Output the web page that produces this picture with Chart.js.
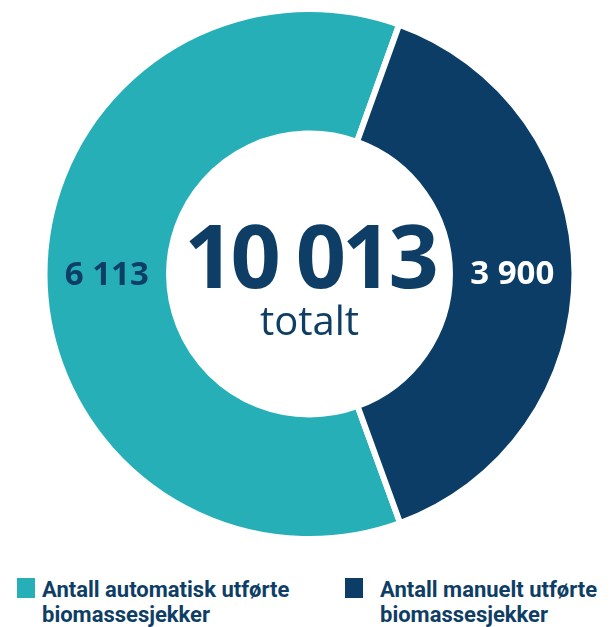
<!DOCTYPE html>
<html>
<head>
<meta charset="utf-8">
<script src="https://cdn.jsdelivr.net/npm/chart.js@4"></script>
<style>
  html, body { margin: 0; padding: 0; background: #fff; }
  #wrap { position: relative; width: 613px; height: 627px; overflow: hidden; }
  #cv { position: absolute; left: 0; top: 0; }
  .leg { position: absolute; font-family: Roboto, "Noto Sans", sans-serif; font-weight: 700;
         font-size: 22px; line-height: 25px; color: #0E3E66; white-space: nowrap; }
  .sw { position: absolute; width: 18px; height: 20px; }
</style>
</head>
<body>
<div id="wrap">
  <canvas id="cv" width="613" height="548"></canvas>
  <div id="legend"></div>
</div>
<script>
const categories = ["Antall automatisk utførte biomassesjekker", "Antall manuelt utførte biomassesjekker"];
const legendLines = [["Antall automatisk utførte", "biomassesjekker"], ["Antall manuelt utførte", "biomassesjekker"]];
const values = [6113, 3900];
const colors = ["#27AFB7", "#0C3D66"];
const labelColors = ["#0E3E66", "#FFFFFF"];
const totalWord = "totalt";

function fmt(n) { return String(n).replace(/\B(?=(\d{3})+(?!\d))/g, " "); }

const valueLabels = {
  id: "valueLabels",
  afterDatasetsDraw(chart) {
    const ctx = chart.ctx;
    const meta = chart.getDatasetMeta(0);
    ctx.save();
    ctx.font = "700 33px 'Open Sans', sans-serif";
    ctx.textAlign = "center";
    ctx.textBaseline = "middle";
    meta.data.forEach((arc, i) => {
      const p = arc.tooltipPosition();
      ctx.fillStyle = labelColors[i];
      ctx.fillText(fmt(values[i]), p.x, p.y + 1);
    });
    const cx = (chart.chartArea.left + chart.chartArea.right) / 2;
    const cy = (chart.chartArea.top + chart.chartArea.bottom) / 2;
    const total = values.reduce((a, b) => a + b, 0);
    ctx.fillStyle = "#0E3E66";
    ctx.textBaseline = "alphabetic";
    ctx.font = "700 88px 'Open Sans', sans-serif";
    if ('letterSpacing' in ctx) ctx.letterSpacing = "-4px";
    ctx.fillText(fmt(total), cx, cy + 14);
    if ('letterSpacing' in ctx) ctx.letterSpacing = "0px";
    ctx.font = "400 40px 'Open Sans', sans-serif";
    ctx.fillText(totalWord, cx, cy + 61);
    ctx.restore();
  }
};

new Chart(document.getElementById("cv"), {
  type: "doughnut",
  data: {
    labels: categories,
    datasets: [{
      data: values,
      backgroundColor: colors,
      borderColor: "#ffffff",
      borderWidth: 6,
      hoverOffset: 0
    }]
  },
  options: {
    responsive: false,
    animation: false,
    rotation: 160,
    cutout: "53%",
    layout: { padding: { top: 6, bottom: 6, left: 6, right: 0 } },
    plugins: { legend: { display: false }, tooltip: { enabled: false } }
  },
  plugins: [valueLabels]
});

const legendPos = [{ sx: 17, tx: 42 }, { sx: 345, tx: 380 }];
const leg = document.getElementById("legend");
legendLines.forEach((lines, i) => {
  const sw = document.createElement("div");
  sw.className = "sw";
  sw.style.left = legendPos[i].sx + "px";
  sw.style.top = "578px";
  sw.style.background = colors[i];
  leg.appendChild(sw);
  const t = document.createElement("div");
  t.className = "leg";
  t.style.left = legendPos[i].tx + "px";
  t.style.top = "577px";
  t.innerHTML = lines.join("<br>");
  leg.appendChild(t);
});
</script>
</body>
</html>
